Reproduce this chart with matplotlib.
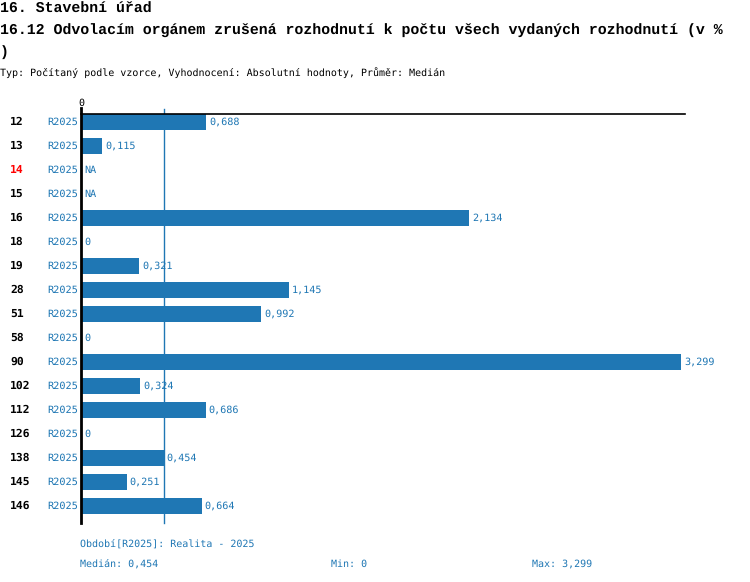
import matplotlib
matplotlib.use("Agg")
import matplotlib.pyplot as plt
import matplotlib.transforms as mtransforms
import numpy as np

categories = ["12", "13", "14", "15", "16", "18", "19", "28", "51", "58", "90",
              "102", "112", "126", "138", "145", "146"]
values = [0.688, 0.115, None, None, 2.134, 0, 0.321, 1.145, 0.992, 0, 3.299,
          0.324, 0.686, 0, 0.454, 0.251, 0.664]
highlight = ["14"]
period = "R2025"
median_value = 0.454
min_value = 0
max_value = 3.299

BLUE = "#1f77b4"
W, H = 750, 582
plt.rcParams['font.family'] = ['DejaVu Sans Mono', 'DejaVu Sans']
plt.rcParams['text.hinting'] = 'none'

fig = plt.figure(figsize=(W / 100, H / 100), dpi=100)

def fx(px):
    return px / W

def fy(py):
    return 1 - py / H

def fmt(v):
    return "0" if v == 0 else f"{v:.3f}".replace(".", ",")

# Axes: x from px 81 to 685, y from px 114 to 523
ax = fig.add_axes([fx(81), fy(523), (685 - 81) / W, (523 - 114) / H])
n = len(categories)
ax.set_xlim(0, max_value * 604 / 600)
ax.set_ylim(n - 1 + 0.708, -0.333)

ypos = np.arange(n)
vals = [v if v is not None else 0 for v in values]
ax.barh(ypos, vals, height=0.66, color=BLUE, zorder=2)

ax.axvline(median_value, ymin=0, ymax=1.012, color=BLUE, lw=1, clip_on=False, zorder=1)
ax.axvline(0, ymin=0, ymax=1.015, color="black", lw=2, clip_on=False, zorder=3)

for s in ["right", "bottom", "left"]:
    ax.spines[s].set_visible(False)
ax.spines["top"].set_linewidth(1.2)
ax.set_xticks([])
ax.set_yticks([])

trans_lbl = mtransforms.offset_copy(ax.transData, fig=fig, x=3, y=0, units="dots")
for i, (cat, v) in enumerate(zip(categories, values)):
    label = "NA" if v is None else fmt(v)
    ax.text(v if v is not None else 0, i, label, transform=trans_lbl, ha="left", va="center",
            fontsize=7.3, color=BLUE, zorder=4)
    yfig = ax.transData.transform((0, i))[1] / fig.dpi / (H / 100)
    fig.text(fx(10), yfig, cat, ha="left", va="center", fontsize=8.2, fontweight="bold",
             color="red" if cat in highlight else "black")
    fig.text(fx(78), yfig, period, ha="right", va="center", fontsize=7.4, color=BLUE)

ax.text(0, 1, "0", transform=mtransforms.offset_copy(ax.transAxes, fig=fig, x=0, y=11, units="dots"),
        ha="center", va="center", fontsize=7.2, color="black")

# Titles
title_font = ['Liberation Mono', 'DejaVu Sans Mono']
fig.text(0, fy(9), "16. Stavební úřad", ha="left", va="center", fontsize=10.74,
         fontweight="bold", family=title_font)
fig.text(0, fy(31), "16.12 Odvolacím orgánem zrušená rozhodnutí k počtu všech vydaných rozhodnutí (v %",
         ha="left", va="center", fontsize=10.74, fontweight="bold", family=title_font)
fig.text(0, fy(52), ")", ha="left", va="center", fontsize=10.74, fontweight="bold", family=title_font)
fig.text(0, fy(73), "Typ: Počítaný podle vzorce, Vyhodnocení: Absolutní hodnoty, Průměr: Medián",
         ha="left", va="center", fontsize=7.2)

fig.text(fx(80), fy(544), "Období[R2025]: Realita - 2025", ha="left", va="center", fontsize=7.2, color=BLUE)
fig.text(fx(80), fy(564), f"Medián: {fmt(median_value)}", ha="left", va="center", fontsize=7.2, color=BLUE)
fig.text(fx(331), fy(564), f"Min: {fmt(min_value)}", ha="left", va="center", fontsize=7.2, color=BLUE)
fig.text(fx(532), fy(564), f"Max: {fmt(max_value)}", ha="left", va="center", fontsize=7.2, color=BLUE)

fig.savefig("out.png", dpi=100)
